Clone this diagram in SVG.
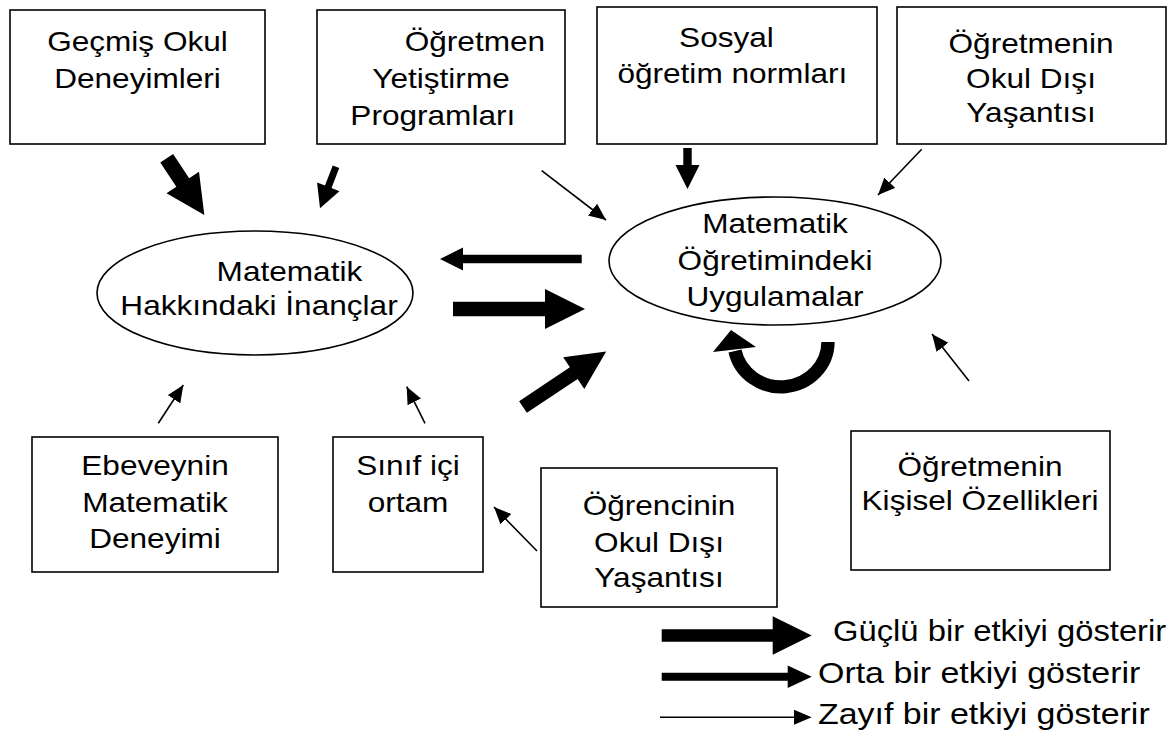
<svg xmlns="http://www.w3.org/2000/svg" width="1176" height="735" viewBox="0 0 1176 735">
<style>
.box{fill:#fff;stroke:#000;stroke-width:1.6}
.ell{fill:#fff;stroke:#000;stroke-width:1.6}
.t{font-family:"Liberation Sans",Arial,sans-serif;font-size:27px;fill:#000;text-anchor:middle}
.ls{font-family:"Liberation Sans",Arial,sans-serif;font-size:29px;fill:#000;text-anchor:start}
.blk{fill:#000;stroke:none}
.thin{stroke:#000;stroke-width:1.6;fill:none;marker-end:url(#ah)}
</style>
<defs>
<marker id="ah" markerUnits="userSpaceOnUse" markerWidth="18" markerHeight="16" refX="17" refY="7.5" orient="auto">
<path d="M0,0 L17,7.5 L0,15 z" fill="#000"/>
</marker>
</defs>
<rect width="1176" height="735" fill="#fff"/>

<g id="n1">
<rect class="box" x="10" y="10" width="255" height="134"/>
<text class="t" transform="matrix(1.17 0 0 1 137.5 0)"><tspan x="0" y="51">Geçmiş Okul</tspan><tspan x="0" y="88">Deneyimleri</tspan></text>
</g>
<g id="n2">
<rect class="box" x="317" y="10" width="248" height="134"/>
<text class="t" transform="matrix(1.17 0 0 1 441 0)"><tspan x="29" y="51">Öğretmen</tspan><tspan x="0" y="88">Yetiştirme</tspan><tspan x="-7" y="125">Programları</tspan></text>
</g>
<g id="n3">
<rect class="box" x="597" y="7" width="280" height="137"/>
<text class="t" transform="matrix(1.17 0 0 1 737 0)"><tspan x="-9" y="47">Sosyal</tspan><tspan x="-4" y="83">öğretim normları</tspan></text>
</g>
<g id="n4">
<rect class="box" x="897" y="7" width="269" height="137"/>
<text class="t" transform="matrix(1.17 0 0 1 1031 0)"><tspan x="0" y="53">Öğretmenin</tspan><tspan x="0" y="88">Okul Dışı</tspan><tspan x="0" y="122">Yaşantısı</tspan></text>
</g>
<g id="e1">
<ellipse class="ell" cx="255" cy="293" rx="158" ry="62"/>
<text class="t" transform="matrix(1.17 0 0 1 259 0)"><tspan x="26" y="281">Matematik</tspan><tspan x="0" y="315">Hakkındaki İnançlar</tspan></text>
</g>
<g id="e2">
<ellipse class="ell" cx="775" cy="261" rx="166" ry="64"/>
<text class="t" transform="matrix(1.17 0 0 1 775 0)"><tspan x="0" y="233">Matematik</tspan><tspan x="0" y="270">Öğretimindeki</tspan><tspan x="0" y="306">Uygulamalar</tspan></text>
</g>
<g id="n5">
<rect class="box" x="32" y="437" width="246" height="135"/>
<text class="t" transform="matrix(1.17 0 0 1 155 0)"><tspan x="0" y="475">Ebeveynin</tspan><tspan x="0" y="512">Matematik</tspan><tspan x="0" y="548">Deneyimi</tspan></text>
</g>
<g id="n6">
<rect class="box" x="333" y="437" width="150" height="135"/>
<text class="t" transform="matrix(1.17 0 0 1 408 0)"><tspan x="0" y="475">Sınıf içi</tspan><tspan x="0" y="512">ortam</tspan></text>
</g>
<g id="n7">
<rect class="box" x="541" y="468" width="236" height="139"/>
<text class="t" transform="matrix(1.17 0 0 1 659 0)"><tspan x="0" y="515">Öğrencinin</tspan><tspan x="0" y="552">Okul Dışı</tspan><tspan x="0" y="587">Yaşantısı</tspan></text>
</g>
<g id="n8">
<rect class="box" x="851" y="431" width="259" height="139"/>
<text class="t" transform="matrix(1.17 0 0 1 980 0)"><tspan x="0" y="476">Öğretmenin</tspan><tspan x="0" y="510">Kişisel Özellikleri</tspan></text>
</g>

<g id="connectors">
<polygon class="blk" transform="translate(166.7 158.3) rotate(56.4)" points="0,-7.7 29,-7.7 29,-19.5 68,0 29,19.5 29,7.7 0,7.7"/>
<polygon class="blk" transform="translate(453 309)" points="0,-7.2 92,-7.2 92,-20 132,0 92,20 92,7.2 0,7.2"/>
<polygon class="blk" transform="translate(523 407) rotate(-33.7)" points="0,-7 61,-7 61,-19 100,0 61,19 61,7 0,7"/>
<polygon class="blk" transform="translate(336 166.7) rotate(111)" points="0,-3.5 21.6,-3.5 21.6,-12 44.6,0 21.6,12 21.6,3.5 0,3.5"/>
<polygon class="blk" transform="translate(581.7 259) rotate(180)" points="0,-4.2 118.7,-4.2 118.7,-11.5 141.7,0 118.7,11.5 118.7,4.2 0,4.2"/>
<polygon class="blk" transform="translate(687.5 148) rotate(90)" points="0,-4.2 17,-4.2 17,-12 41,0 17,12 17,4.2 0,4.2"/>
<path d="M828,342 A47,45 0 0 1 735,351" fill="none" stroke="#000" stroke-width="13.3"/>
<polygon class="blk" points="713,352 756,347 731,330"/>
<line class="thin" x1="541.7" y1="170.7" x2="606" y2="220"/>
<line class="thin" x1="921.7" y1="149.3" x2="878" y2="195"/>
<line class="thin" x1="158.3" y1="423.3" x2="183.3" y2="385"/>
<line class="thin" x1="425" y1="423.3" x2="406.7" y2="386.7"/>
<line class="thin" x1="537" y1="551" x2="494" y2="507"/>
<line class="thin" x1="969" y1="381" x2="932" y2="334"/>
</g>

<g id="legend">
<polygon class="blk" transform="translate(661.7 635.5)" points="0,-6.2 111,-6.2 111,-19.2 150,0 111,19.2 111,6.2 0,6.2"/>
<polygon class="blk" transform="translate(661.7 676.7)" points="0,-4 126,-4 126,-11.2 150,0 126,11.2 126,4 0,4"/>
<line x1="660" y1="717.3" x2="795" y2="717.3" stroke="#000" stroke-width="1.6"/>
<polygon class="blk" points="794,709.8 811.7,717.3 794,724.8"/>
<text class="ls" transform="matrix(1.13 0 0 1 833 0)" x="0" y="641">Güçlü bir etkiyi gösterir</text>
<text class="ls" transform="matrix(1.17 0 0 1 818 0)" x="0" y="683">Orta bir etkiyi gösterir</text>
<text class="ls" transform="matrix(1.17 0 0 1 818 0)" x="0" y="724">Zayıf bir etkiyi gösterir</text>
</g>
</svg>
